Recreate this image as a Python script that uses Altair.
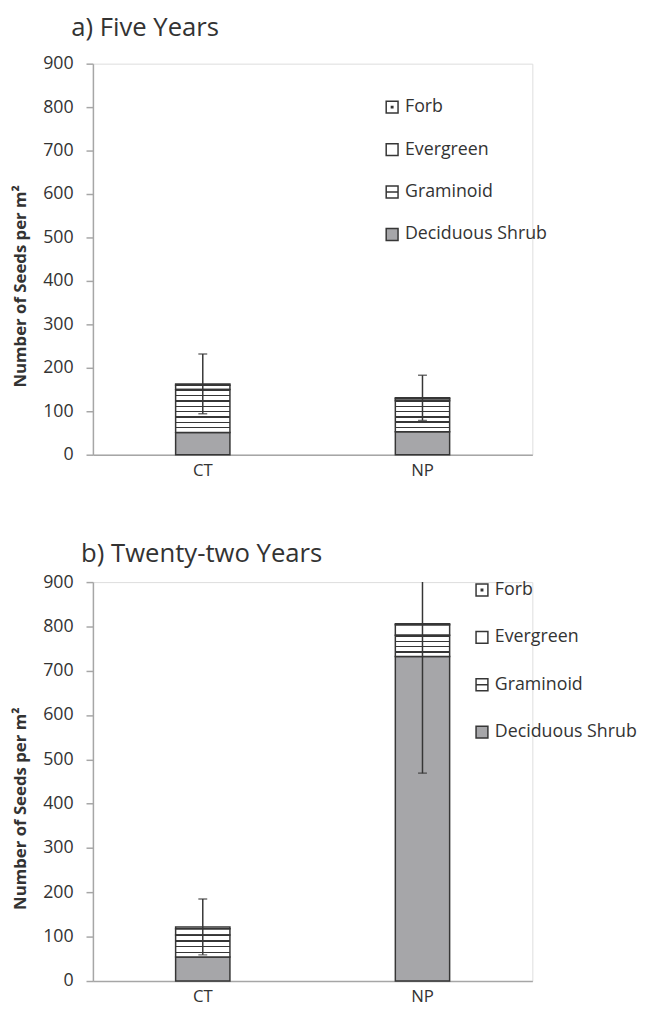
import altair as alt
import pandas as pd

FONT = "Open Sans"
TEXT = "#333333"
AXIS_GRAY = "#a6a6a6"
OUTLINE = "#363636"
GRAY_FILL = "#a6a6a9"

categories = ["CT", "NP"]
types = ["Deciduous Shrub", "Graminoid", "Evergreen", "Forb"]
legend_order = ["Forb", "Evergreen", "Graminoid", "Deciduous Shrub"]
y_ticks = [0, 100, 200, 300, 400, 500, 600, 700, 800, 900]

# a) Five Years
five_deciduous = [51, 53]
five_graminoid = [99, 71]
five_evergreen = [10, 5]
five_forb = [3, 2]
five_err = [69, 52]

# b) Twenty-two Years
tt_deciduous = [54, 732]
tt_graminoid = [50, 48]
tt_evergreen = [14, 24]
tt_forb = [4, 2]
tt_err = [63, 337]

PLOT_W = 445


def stripes(px_height):
    n = max(1, round(px_height / 5.5))
    lw = min(0.45, 1.3 / max(px_height, 1))
    stops = []
    for i in range(n):
        a = i / n
        b = (i + 1) / n
        stops += [
            {"offset": a, "color": OUTLINE},
            {"offset": min(b, a + lw), "color": OUTLINE},
            {"offset": min(b, a + lw), "color": "white"},
            {"offset": b, "color": "white"},
        ]
    return {"gradient": "linear", "x1": 0, "y1": 0, "x2": 0, "y2": 1, "stops": stops}


def panel(dec, gram, ever, forb, err, title, title_dx, title_offset, height,
          leg_x, leg_y, row_pad, ytitle_shift):
    rows = []
    for series, name, order in [(dec, "Deciduous Shrub", 0), (gram, "Graminoid", 1),
                                (ever, "Evergreen", 2), (forb, "Forb", 3)]:
        for c, v in zip(categories, series):
            rows.append({"cat": c, "type": name, "value": v, "order": order})
    df = pd.DataFrame(rows)

    totals = [d + g + e + f for d, g, e, f in zip(dec, gram, ever, forb)]
    edf = pd.DataFrame({"cat": categories, "mean": totals, "err": err})

    x_enc = alt.X("cat:N", sort=categories,
                  scale=alt.Scale(paddingInner=0, paddingOuter=0),
                  axis=alt.Axis(title=None, labelAngle=0, ticks=False,
                                domainColor=AXIS_GRAY, domainWidth=1.5,
                                labelFontSize=17, labelColor=TEXT,
                                labelPadding=8, labelFont=FONT))
    y_scale = alt.Scale(domain=[0, 900], nice=False)
    y_axis = alt.Axis(values=y_ticks, title="Number of Seeds per m²",
                      titleFontSize=17, titleFontWeight="bold", titleColor=TEXT,
                      titleFont=FONT, titlePadding=15,
                      titleX=-64, titleY=height / 2 + ytitle_shift,
                      labelFontSize=18, labelColor=TEXT, labelFont=FONT,
                      labelPadding=13, tickSize=7, tickColor=AXIS_GRAY,
                      tickWidth=1.5, domainColor=AXIS_GRAY, domainWidth=1.5,
                      grid=False)

    base = alt.Chart(df).transform_stack(
        stack="value", groupby=["cat"], as_=["y0", "y1"],
        sort=[alt.SortField("order", order="ascending")])

    fill_scale = alt.Scale(domain=legend_order,
                           range=["white", "white", "white", GRAY_FILL])
    stroke_scale = alt.Scale(domain=legend_order,
                             range=[OUTLINE, OUTLINE, OUTLINE, OUTLINE])
    shape_scale = alt.Scale(domain=legend_order, range=[
        "M-1,-1H1V1H-1Z M-0.12,-0.12H0.12V0.12H-0.12Z",
        "M-1,-1H1V1H-1Z",
        "M-1,-1H1V1H-1Z M-1,0H1",
        "M-1,-1H1V1H-1Z",
    ])

    legend = alt.Legend(title=None, orient="none", legendX=leg_x, legendY=leg_y,
                        labelFontSize=18, labelFont=FONT, labelColor=TEXT,
                        symbolSize=144, symbolStrokeColor=OUTLINE,
                        symbolStrokeWidth=1.5, rowPadding=row_pad, labelOffset=4,
                        symbolOpacity=1)

    legend_pts = base.mark_point(filled=True, opacity=0, strokeWidth=1.5).encode(
        x=x_enc,
        y=alt.Y("y1:Q", scale=y_scale, axis=y_axis),
        fill=alt.Fill("type:N", scale=fill_scale, legend=legend),
        stroke=alt.Stroke("type:N", scale=stroke_scale, legend=legend),
        shape=alt.Shape("type:N", scale=shape_scale, legend=legend),
    )

    plain = base.transform_filter("datum.type !== 'Graminoid'").mark_bar(
        size=55, stroke=OUTLINE, strokeWidth=1.5
    ).encode(
        x=x_enc,
        y=alt.Y("y1:Q", scale=y_scale, axis=y_axis),
        y2="y0:Q",
        fill=alt.Fill("type:N", scale=fill_scale, legend=legend),
    )

    px = [g * height / 900 for g in gram]
    gram_bars = base.transform_filter("datum.type === 'Graminoid'").mark_bar(
        size=55, stroke=OUTLINE, strokeWidth=1.5
    ).encode(
        x=x_enc,
        y=alt.Y("y1:Q", scale=y_scale, axis=y_axis),
        y2="y0:Q",
        fill=alt.condition("datum.cat === 'CT'", alt.value(stripes(px[0])),
                           alt.value(stripes(px[1]))),
    )

    ebase = alt.Chart(edf).transform_calculate(
        lo="datum.mean - datum.err", hi="datum.mean + datum.err")
    rule = ebase.mark_rule(color=OUTLINE, strokeWidth=1.5, clip=True).encode(
        x=x_enc, y=alt.Y("lo:Q", scale=y_scale, axis=y_axis), y2="hi:Q")
    cap_lo = ebase.mark_tick(color=OUTLINE, size=9, thickness=1.5, clip=True).encode(
        x=x_enc, y=alt.Y("lo:Q", scale=y_scale, axis=y_axis))
    cap_hi = ebase.mark_tick(color=OUTLINE, size=9, thickness=1.5, clip=True).encode(
        x=x_enc, y=alt.Y("hi:Q", scale=y_scale, axis=y_axis))

    return alt.layer(legend_pts, plain, gram_bars, rule, cap_lo, cap_hi).properties(
        width=PLOT_W, height=height,
        title=alt.TitleParams(text=title, anchor="start", frame="group",
                              dx=title_dx, fontSize=26, font=FONT, color=TEXT,
                              fontWeight="normal", offset=title_offset),
    )


top = panel(five_deciduous, five_graminoid, five_evergreen, five_forb, five_err,
            "a) Five Years", -22, 14, 396, 294, 35, 25, 27)
bottom = panel(tt_deciduous, tt_graminoid, tt_evergreen, tt_forb, tt_err,
               "b) Twenty-two Years", -12, 6, 404, 385, -1, 30, 27)

chart = alt.vconcat(top, bottom, spacing=62).resolve_scale(
    fill="independent", stroke="independent", shape="independent"
).properties(
    padding={"left": 3, "top": 0, "right": 0, "bottom": 0}
).configure_view(strokeWidth=0).configure(font=FONT)

chart.save("out.html", embed_options={"renderer": "svg", "actions": False})
